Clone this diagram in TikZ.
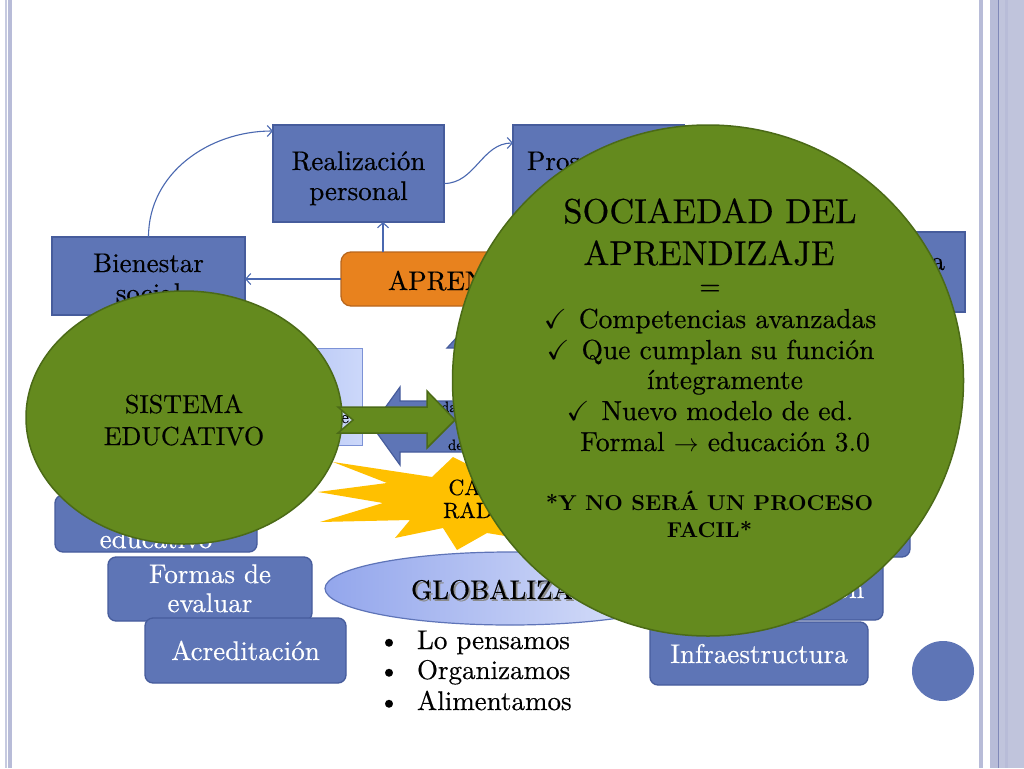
\documentclass[tikz,border=0pt]{standalone}
\usepackage{fontspec}
\usepackage{amssymb}
\setmainfont{lmroman10-regular.otf}[FakeBold=0.4]
\newfontfamily\boldlm{lmroman10-bold.otf}
\usetikzlibrary{arrows.meta,shapes.geometric}
\definecolor{bblue}{HTML}{5E75B6}
\definecolor{bline}{HTML}{465C9C}
\definecolor{gfill}{HTML}{648A1E}
\definecolor{gline}{HTML}{4B6A17}
\definecolor{ofill}{HTML}{E8821E}
\definecolor{oline}{HTML}{B9661C}
\definecolor{yfill}{HTML}{FFC000}
\definecolor{conncol}{HTML}{4A68B0}
\definecolor{stripeA}{HTML}{C6CAE0}
\definecolor{stripeB}{HTML}{B8BCD8}
\definecolor{stripeC}{HTML}{8088B8}
\definecolor{stripeD}{HTML}{C0C4DC}
\definecolor{lightL}{HTML}{98ACEE}
\definecolor{lightR}{HTML}{CCD8FA}
\definecolor{lightline}{HTML}{7C92D6}
\definecolor{globL}{HTML}{93A6EC}
\definecolor{globR}{HTML}{E2E8FB}
\definecolor{globline}{HTML}{5E74B8}
\begin{document}
\begin{tikzpicture}[x=1pt,y=-1pt,
  bluebox/.style={rectangle,inner sep=0pt,outer sep=0pt,anchor=north west,draw=bline,fill=bblue,line width=1.3pt},
  rbox/.style={bluebox,rounded corners=8pt},
  txt/.style={anchor=base,inner sep=0pt,outer sep=0pt,font=\fontsize{27}{30}\selectfont},
  wtxt/.style={txt,text=white},
  soctxt/.style={txt,font=\fontsize{27.5}{30}\selectfont},
  bigtxt/.style={txt,font=\fontsize{34.5}{40}\selectfont},
  boldtxt/.style={txt,font=\fontsize{21.5}{26}\boldlm},
  smalltxt/.style={txt,anchor=base west,font=\fontsize{15}{18}\selectfont},
  connarrow/.style={draw=conncol,line width=1.1pt,-{Straight Barb[length=5pt,width=11pt]}},
  greenshape/.style={fill=gfill,draw=gline,line width=1.5pt},
  blueshape/.style={fill=bblue,draw=bline,line width=1.2pt}
]
% page
\fill[white] (0,0) rectangle (1024,768);
\useasboundingbox (0,0) rectangle (1024,768);
% borders
\fill[stripeA] (5,0) rectangle (7,768);
\fill[stripeB] (8,0) rectangle (12,768);
\fill[stripeB] (979,0) rectangle (983,768);
\fill[stripeB] (990,0) rectangle (998,768);
\fill[stripeD] (998,0) rectangle (1024,768);
\fill[stripeB] (1005,0) rectangle (1008,768);
\draw[stripeC,line width=0.8pt] (998.3,0) -- (998.3,768);

% top boxes
\node[bluebox,minimum width=171pt,minimum height=97pt] (real) at (273,125) {};
\node[txt] at (358.5,170) {Realización};
\node[txt] at (358.5,200) {personal};
\node[bluebox,minimum width=171pt,minimum height=97pt] (pros) at (513,125) {};
\node[txt,anchor=base west] at (527,170) {Prosperidad};
\node[bluebox,minimum width=195pt,minimum height=80pt] (eco) at (770,232) {};
\node[txt,anchor=base east] at (945,270) {Cultura};
\node[bluebox,minimum width=193pt,minimum height=78pt] (bien) at (52,237) {};
\node[txt] at (148.5,272) {Bienestar};
\node[txt] at (148.5,302) {social};
\node[bluebox,rounded corners=10pt,draw=oline,fill=ofill,minimum width=290pt,minimum height=54pt] (apr) at (341,252) {};
\node[txt,anchor=base west] at (388,290) {APRENDIZAJE};

% connectors
\draw[connarrow] (bien.north) to[out=90,in=180] ([yshift=-6pt]real.north west);
\draw[connarrow] ([yshift=-10pt]real.east) to[out=0,in=180] ([yshift=-18pt]pros.north west);
\draw[connarrow] ([xshift=42pt]apr.north west) -- ([xshift=42pt]apr.north west |- real.south);
\draw[connarrow] (apr.west) -- (apr.west -| bien.east);

% hidden up arrow
\draw[blueshape] (447,348) -- (480,312) -- (513,348) -- (495,348) -- (495,390) -- (465,390) -- (465,348) -- cycle;
% light rectangle
\node[rectangle,inner sep=0pt,outer sep=0pt,anchor=north west,minimum width=172pt,minimum height=97pt,left color=lightL,right color=lightR,draw=lightline,line width=0.8pt] (lrect) at (190,348) {};
\node[txt,anchor=base west,font=\fontsize{18}{20}\selectfont] at (341,423) {e};
% double arrow
\draw[blueshape] (372,426) -- (400,387) -- (400,401) -- (540,401) -- (540,387) -- (568,426) -- (540,465) -- (540,452) -- (400,452) -- (400,465) -- cycle;
\node[smalltxt] at (441,412) {da};
\node[smalltxt] at (428,431) {ie};
\node[smalltxt] at (448,450) {de};

% explosion
\fill[yfill] (333,462) -- (387,483) -- (318,492) -- (383,503) -- (320,522) -- (410,520) -- (395,538) -- (443,528) -- (457,550) -- (487,533) -- (560,545) -- (530,510) -- (575,480) -- (520,470) -- (540,440) -- (475,468) -- (453,457) -- (432,477) -- cycle;
\node[txt,font=\fontsize{22}{24}\selectfont] at (495,495) {CAMBIO};
\node[txt,font=\fontsize{22}{24}\selectfont] at (495,518) {RADICAL};

% left stack
\node[rbox,minimum width=202pt,minimum height=57pt] (mod) at (55,495) {};
\node[wtxt] at (156,548) {educativo};
\node[rbox,minimum width=204pt,minimum height=64pt] (eval) at (108,557) {};
\node[wtxt] at (210,583) {Formas de};
\node[wtxt] at (210,612) {evaluar};
\node[rbox,minimum width=201pt,minimum height=65pt] (acr) at (145,618) {};
\node[wtxt] at (245.5,660) {Acreditación};

% right stack
\node[rbox,minimum width=218pt,minimum height=62pt] (doc) at (692,495) {};
\node[rbox,minimum width=218pt,minimum height=63pt] (adm) at (665,557) {};
\node[wtxt] at (774,598) {Administración};
\node[rbox,minimum width=218pt,minimum height=63pt] (inf) at (650,622) {};
\node[wtxt] at (759,663) {Infraestructura};

% globalization
\node[ellipse,inner sep=0pt,minimum width=370pt,minimum height=73pt,left color=globL,right color=globR,draw=globline,line width=1.2pt] (glob) at (510,588.5) {};
\node[txt,anchor=base west,text=black!45] at (412.8,600.8) {GLOBALIZACIÓN};
\node[txt,anchor=base west] at (411,599) {GLOBALIZACIÓN};
\node[txt] at (389,649) {\textbullet};
\node[txt,anchor=base west] at (417,649) {Lo pensamos};
\node[txt] at (389,679) {\textbullet};
\node[txt,anchor=base west] at (417,679) {Organizamos};
\node[txt] at (389,710) {\textbullet};
\node[txt,anchor=base west] at (417,710) {Alimentamos};

% sistema educativo
\node[ellipse,inner sep=0pt,minimum width=316pt,minimum height=253pt,greenshape] (sis) at (184,417.5) {};
\node[txt,font=\fontsize{26}{32}\selectfont] at (184,413) {SISTEMA};
\node[txt,font=\fontsize{26}{32}\selectfont] at (184,445) {EDUCATIVO};

% green arrow
\draw[greenshape] (338,407) -- (427,407) -- (427,391) -- (455,420) -- (427,448) -- (427,433) -- (338,433) -- (353,420) -- cycle;

% big circle
\node[circle,inner sep=0pt,minimum size=511pt,greenshape] (soc) at (708,380.5) {};
\node[bigtxt] at (710,223) {SOCIAEDAD DEL};
\node[bigtxt] at (709,265) {APRENDIZAJE};
\node[soctxt] at (710,295) {=};
\node[soctxt] at (710,328) {$\checkmark$\hspace{12pt}Competencias avanzadas};
\node[soctxt] at (710.5,359) {$\checkmark$\hspace{12pt}Que cumplan su función};
\node[soctxt] at (725,389) {íntegramente};
\node[soctxt] at (710,420) {$\checkmark$\hspace{12pt}Nuevo modelo de ed.};
\node[soctxt] at (725,451) {Formal $\rightarrow$ educación 3.0};
\node[boldtxt] at (709.5,510) {*Y NO SERÁ UN PROCESO};
\node[boldtxt] at (709.5,537) {FACIL*};

% small ellipse
\node[ellipse,inner sep=0pt,minimum width=62pt,minimum height=60pt,fill=bblue] (dot) at (943,671) {};
\end{tikzpicture}
\end{document}
